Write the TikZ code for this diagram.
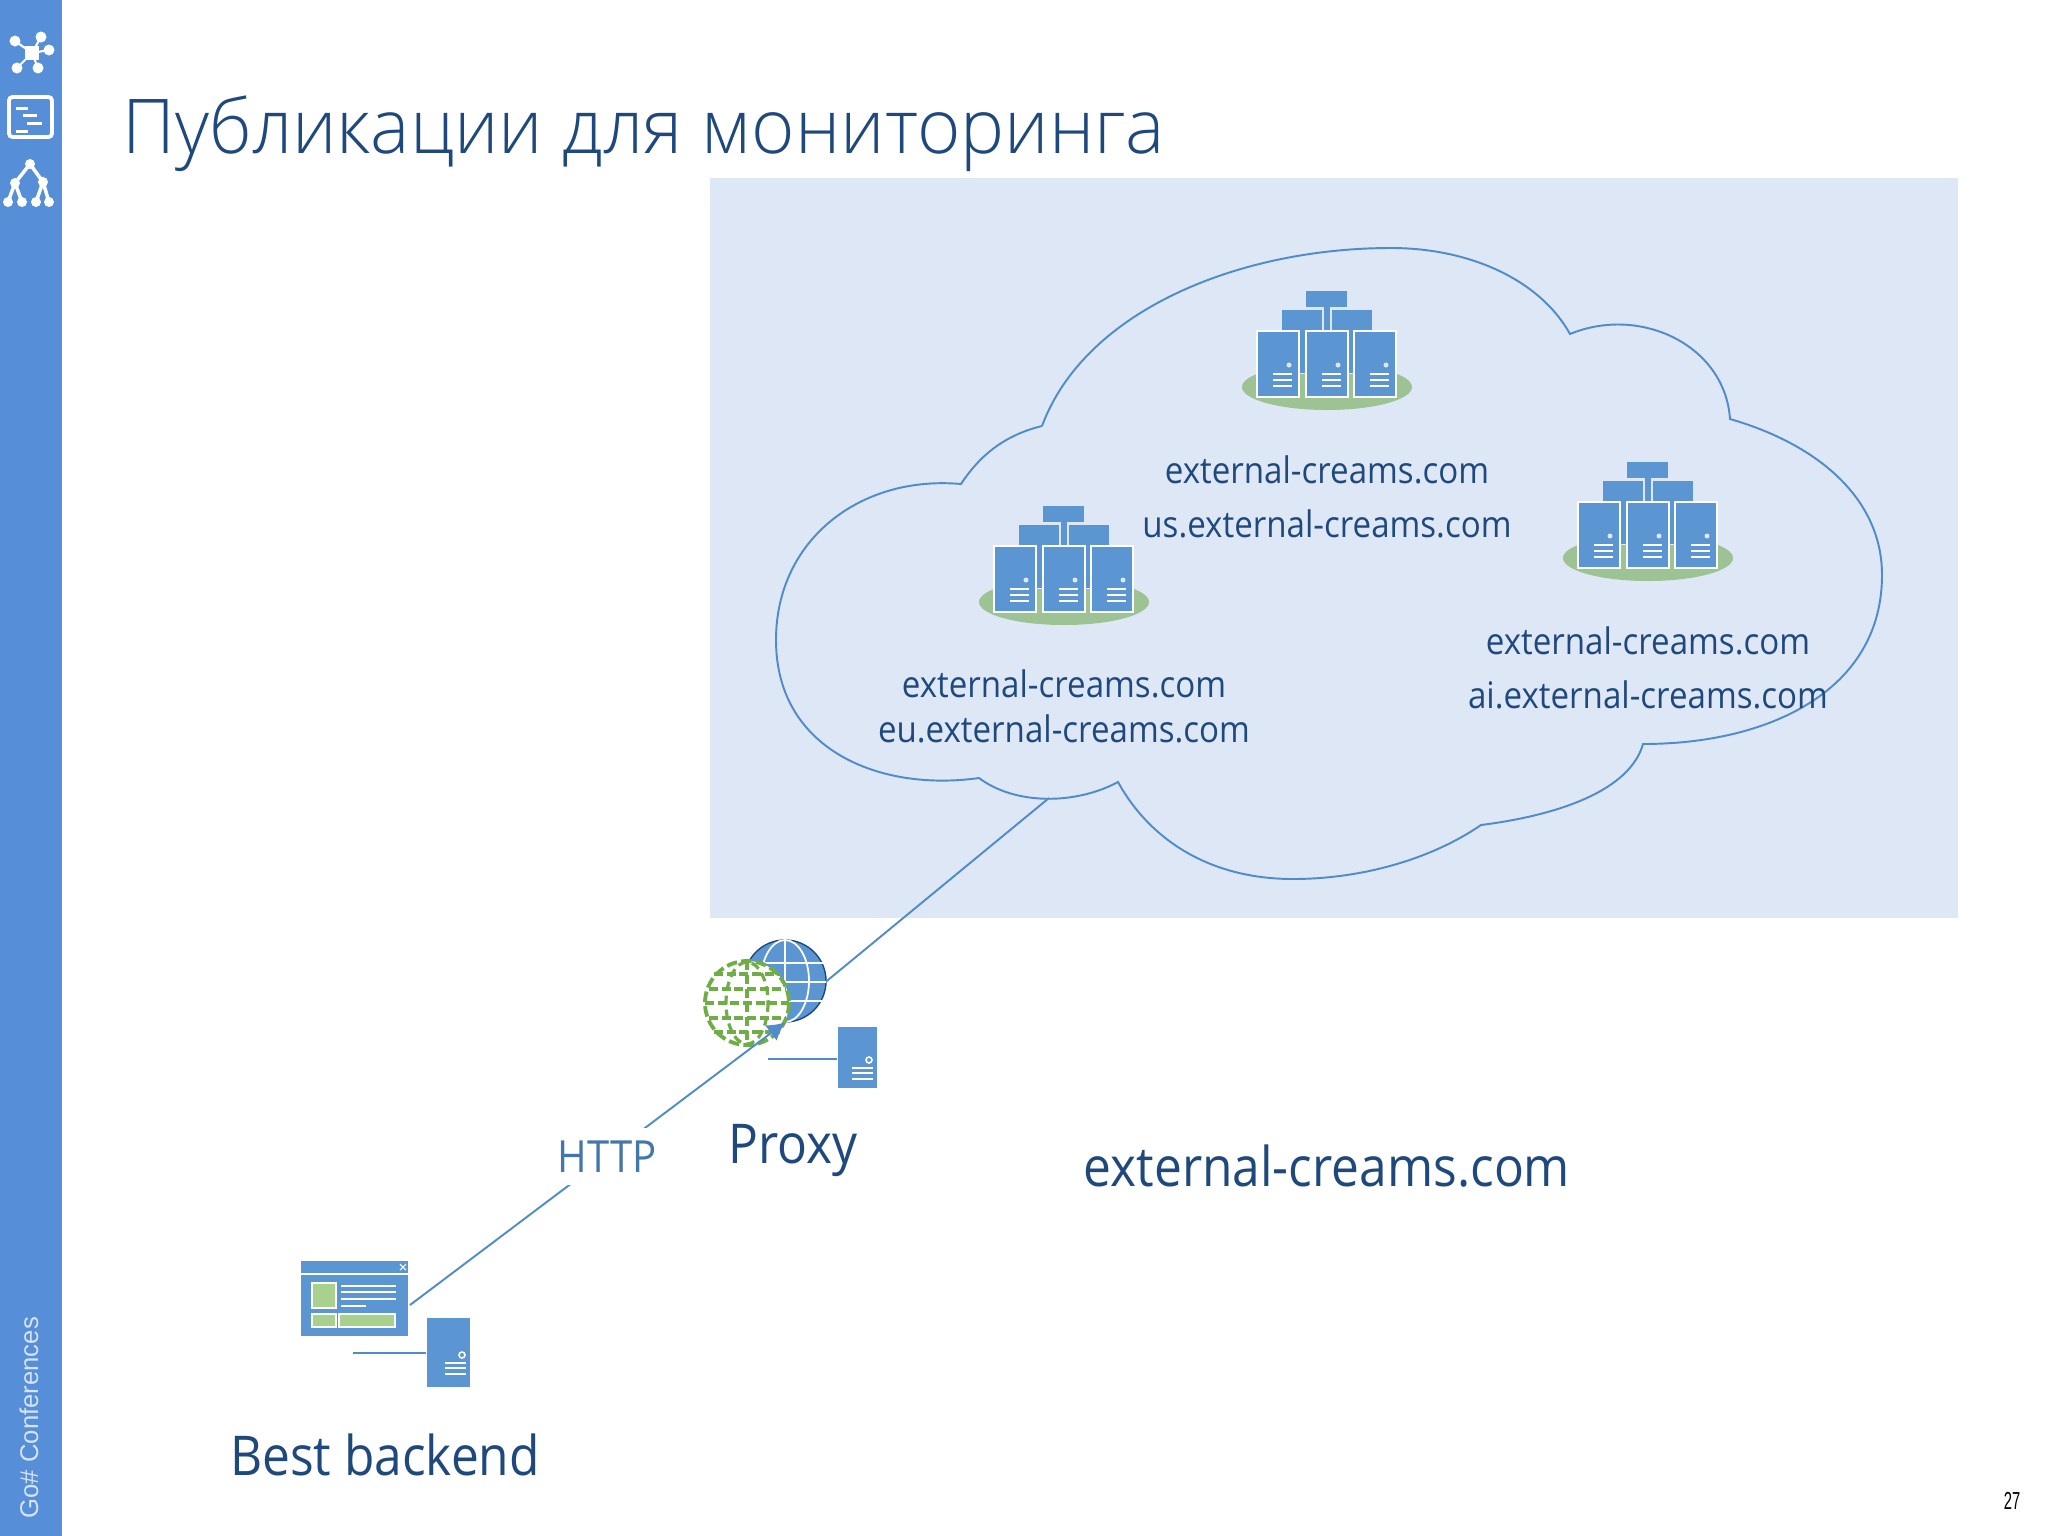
\documentclass[tikz,border=0pt]{standalone}
\usepackage{fontspec}
\setmainfont[FakeStretch=0.905]{Open Sans}
\newfontfamily\titlefont[FakeStretch=0.98]{Open Sans Light}
\newfontfamily\sidefont{Liberation Sans}
\newfontfamily\pagefont[FakeStretch=0.6]{Liberation Sans}
\usetikzlibrary{shapes, arrows.meta}
\definecolor{sidebar}{HTML}{568ED7}
\definecolor{panel}{HTML}{DEE7F5}
\definecolor{srvblue}{HTML}{5B96D3}
\definecolor{srvgreen}{HTML}{9DC394}
\definecolor{leaf}{HTML}{A9D18E}
\definecolor{globegreen}{HTML}{70AD47}
\definecolor{inkblue}{HTML}{1F497D}
\definecolor{wireblue}{HTML}{4F8CC9}
\tikzset{
  wire/.style = {draw=wireblue, line width=0.55pt},
  hostlabel/.style = {text=inkblue, font=\fontsize{10.4}{12}\selectfont, inner sep=0pt},
  biglabel/.style = {text=inkblue, font=\fontsize{15.6}{18}\selectfont, inner sep=0pt},
  srvbox/.style = {fill=srvblue, draw=none, minimum width=0.41cm, minimum height=0.64cm, inner sep=0pt},
  pics/serverfarm/.style = {code = {
    \fill[srvgreen] (0,0) ellipse [x radius=85, y radius=23];
    \fill[srvblue] (-3,-96) rectangle (3,-14);
    \fill[srvblue] (-21,-96) rectangle (20,-80);
    \fill[srvblue, draw=panel, line width=0.2pt] (-46,-78) rectangle (-5,-14);
    \fill[srvblue, draw=panel, line width=0.2pt] (4,-78) rectangle (45,-14);
    \foreach \xpos in {-49,0,48} {
      \fill[srvblue, draw=white, line width=0.3pt] (\xpos-21,-56) rectangle (\xpos+21,10);
      \fill[panel] (\xpos+11,-22) circle [radius=2.5];
      \foreach \ypos in {-13,-7,-1}
        \draw[white, line width=0.3pt] (\xpos-5,\ypos) -- (\xpos+14,\ypos);
    }
  }},
  pics/srvmarks/.style = {code = {
    \draw[white, line width=0.45pt] (0,0) circle [radius=3];
    \foreach \ypos in {8,13,19}
      \draw[white, line width=0.55pt] (-17,\ypos) -- (4,\ypos);
  }}
}
\begin{document}
\begin{tikzpicture}[x=0.01cm, y=-0.01cm]
  \useasboundingbox (0,0) rectangle (2048,1536);
  % side bar
  \fill[sidebar] (0,0) rectangle (62,1536);
  \foreach \px/\py in {15/41, 41/37, 49/50, 38/68, 17/68} {
    \draw[white, line width=0.6pt] (32,53) -- (\px,\py);
    \fill[white] (\px,\py) circle [radius=5.5];
  }
  \fill[white] (25,46) rectangle (39,60);
  \draw[white, line width=1.1pt, rounded corners=1pt] (9,97) rectangle (52,137);
  \fill[white] (16,107) rectangle (28,110);
  \fill[white] (23,114) rectangle (37,117);
  \fill[white] (27,122) rectangle (42,125);
  \fill[white] (16,130) rectangle (28,133);
  \draw[white, line width=1pt] (15,183) -- (30,164) -- (43,182);
  \draw[white, line width=1pt] (8,202) -- (15,183) -- (22,202) (36,202) -- (43,182) -- (49,202);
  \foreach \px/\py in {30/164, 15/183, 43/182, 8/202, 22/202, 36/202, 49/202}
    \fill[white] (\px,\py) circle [radius=5];
  \node[rotate=90, anchor=west, text=white!75!sidebar, inner sep=0pt, font=\sidefont\fontsize{7.3}{9}\selectfont] (sidetext) at (29,1519) {Go\# Conferences};
  \node[anchor=base west, text=inkblue, inner sep=0pt, font=\titlefont\fontsize{21.5}{26}\selectfont] (title) at (122,153) {Публикации для мониторинга};
  \node[anchor=center, text=black, inner sep=0pt, font=\pagefont\fontsize{7}{8}\selectfont] (pagenum) at (2012,1501) {27};

  % cloud
  \fill[panel] (710,178) rectangle (1958,918);
  \draw[wire] (1042,426) .. controls (1085,310) and (1240,248) .. (1391,248)
    .. controls (1470,248) and (1540,280) .. (1570,334)
    .. controls (1640,305) and (1725,345) .. (1730,419)
    .. controls (1820,445) and (1882,500) .. (1882,575)
    .. controls (1882,690) and (1770,744) .. (1643,744)
    .. controls (1630,790) and (1560,815) .. (1481,825)
    .. controls (1430,860) and (1360,879) .. (1293,879)
    .. controls (1210,879) and (1150,840) .. (1118,782)
    .. controls (1075,805) and (1015,805) .. (979,778)
    .. controls (880,792) and (776,750) .. (776,640)
    .. controls (776,540) and (860,475) .. (961,484)
    .. controls (980,455) and (1005,435) .. (1042,426);
  \coordinate (cloudtip) at (1049,798);

  \pic at (1327,387) {serverfarm};
  \pic at (1064,602) {serverfarm};
  \pic at (1648,558) {serverfarm};
  \node[hostlabel] (usmain) at (1327,470) {external-creams.com};
  \node[hostlabel] (ushost) at (1327,524) {us.external-creams.com};
  \node[hostlabel] (eumain) at (1064,684) {external-creams.com};
  \node[hostlabel] (euhost) at (1064,729) {eu.external-creams.com};
  \node[hostlabel] (aimain) at (1648,641) {external-creams.com};
  \node[hostlabel] (aihost) at (1648,695) {ai.external-creams.com};

  % proxy
  \node[draw=inkblue, fill=srvblue, circle, minimum size=0.82cm, inner sep=0pt] (globe) at (785,981) {};
  \draw[white, line width=0.5pt] (785,981) ellipse [x radius=24, y radius=41];
  \draw[white, line width=0.5pt] (785,940) -- (785,1022) (746,963) -- (824,963) (744,982) -- (826,982) (746,1001) -- (824,1001);
  \node[fill=white, circle, minimum size=0.84cm, inner sep=0pt] (greenglobe) at (747,1003) {};
  \draw[globegreen, line width=1.1pt, dash pattern=on 3pt off 1.2pt] (747,1003) circle [radius=42];
  \draw[globegreen, line width=0.9pt, dash pattern=on 2.5pt off 1.5pt] (747,1003) ellipse [x radius=21, y radius=41];
  \draw[globegreen, line width=0.9pt, dash pattern=on 2.5pt off 1.5pt] (747,961) -- (747,1045);
  \foreach \ypos/\xr in {-29/33, -14/38, 0/42, 15/38, 29/33}
    \draw[globegreen, line width=1.1pt, dash pattern=on 2.6pt off 1pt] (747-\xr,1003+\ypos) -- (747+\xr,1003+\ypos);
  \node[srvbox, minimum width=0.39cm, minimum height=0.61cm] (proxysrv) at (857.5,1057.5) {};
  \pic at (869,1060) {srvmarks};
  \coordinate (proxystub) at (768,1059);
  \draw[wire] (proxystub) -- (proxystub -| proxysrv.west);
  \draw[wire] (cloudtip) -- (globe.east);
  \node[biglabel] (proxylabel) at (793,1150) {Proxy};
  \node[biglabel] (sitelabel) at (1327,1166) {external-creams.com};

  % backend
  \node[fill=srvblue, minimum width=1.07cm, minimum height=0.75cm, inner sep=0pt] (browser) at (354.5,1298.5) {};
  \draw[white, line width=0.35pt] (301,1274) -- (408,1274);
  \draw[white, line width=0.3pt] (400,1264) -- (406,1270) (406,1264) -- (400,1270);
  \draw[white, line width=0.35pt, fill=leaf] (312,1283) rectangle (336,1308);
  \draw[white, line width=0.35pt, fill=leaf] (312,1314) rectangle (336,1327);
  \draw[white, line width=0.35pt, fill=leaf] (339,1314) rectangle (395,1327);
  \draw[white, line width=0.35pt] (341,1286) -- (396,1286) (341,1292) -- (396,1292) (341,1299) -- (396,1299) (341,1306) -- (366,1306);
  \node[srvbox, minimum width=0.43cm, minimum height=0.69cm] (backendsrv) at (448.5,1352.5) {};
  \pic at (462,1355) {srvmarks};
  \coordinate (backendstub) at (353,1353);
  \coordinate (browserout) at (410,1305);
  \draw[wire] (backendstub) -- (backendstub -| backendsrv.west);
  \draw[wire, -{Latex[length=5pt, width=5.5pt]}] (browserout) -- (greenglobe.-27)
    node [pos=0.526, fill=white, text=wireblue!85!black, font=\fontsize{12.6}{15}\selectfont, inner sep=3.6pt] (httplabel) {HTTP};
  \node[biglabel] (backendlabel) at (385,1455) {Best backend};
\end{tikzpicture}
\end{document}
